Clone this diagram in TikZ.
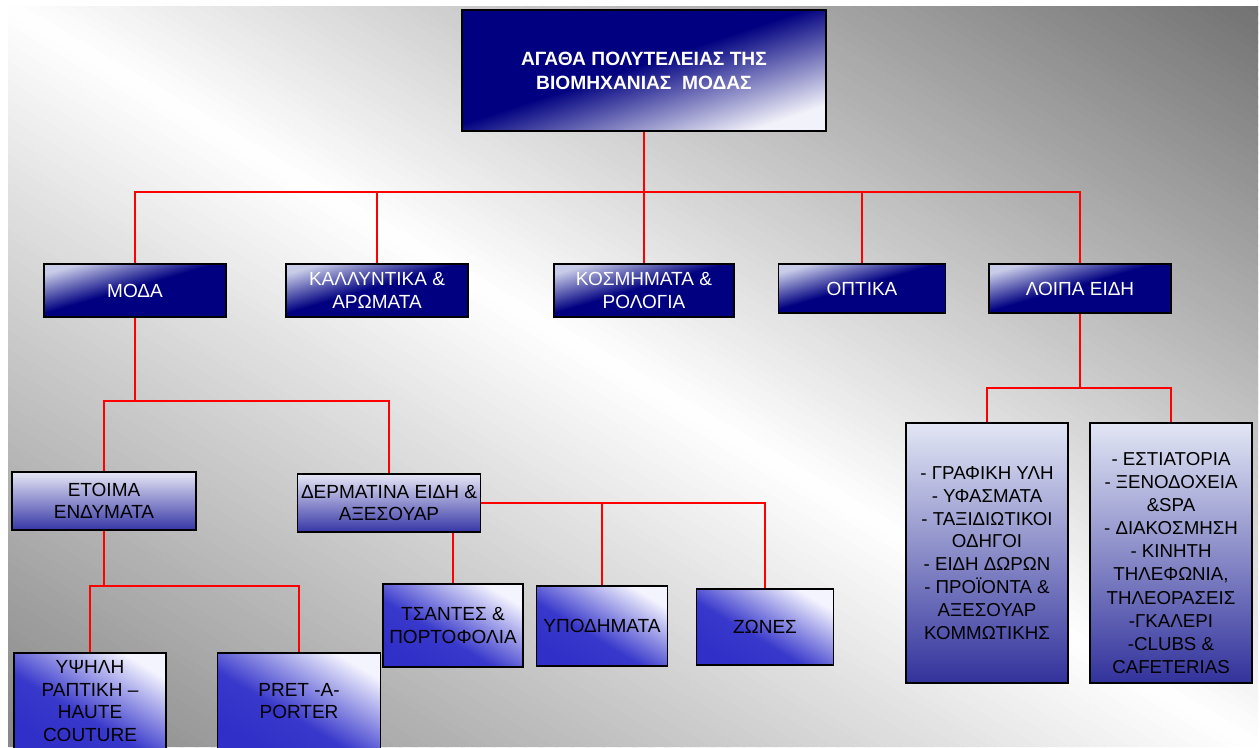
\documentclass[tikz,border=0pt]{standalone}
\usepackage{fontspec}
\setmainfont{Liberation Sans}
\usetikzlibrary{calc}

% palette
\definecolor{bgA}{HTML}{868686}
\definecolor{bgB}{HTML}{727272}
\definecolor{navy}{HTML}{000080}
\definecolor{titlelt}{HTML}{F2F2FA}
\definecolor{catlt}{HTML}{C8CCE8}
\definecolor{grptop}{HTML}{E6E6F6}
\definecolor{grpbot}{HTML}{3636A6}
\definecolor{leafbl}{HTML}{3030C8}
\definecolor{leafmid}{HTML}{3838CC}
\definecolor{leaflt}{HTML}{F4F4FF}
\definecolor{talltop}{HTML}{E2E6F4}
\definecolor{tallbot}{HTML}{32329C}

% diagonal gradients: the box corners fall on 25bp and 75bp
\pgfdeclarehorizontalshading{titlesh}{100bp}{color(0bp)=(navy); color(48bp)=(navy); color(75bp)=(titlelt); color(100bp)=(titlelt)}
\pgfdeclarehorizontalshading{catsh}{100bp}{color(0bp)=(catlt); color(25bp)=(catlt); color(48bp)=(navy); color(100bp)=(navy)}
\pgfdeclarehorizontalshading{leafsh}{100bp}{color(0bp)=(leafbl); color(25bp)=(leafbl); color(43bp)=(leafmid); color(75bp)=(leaflt); color(100bp)=(leaflt)}

\begin{document}
\begin{tikzpicture}[x=1pt, y=-1pt,
  conn/.style={draw=red, line width=1.6pt},
  wh/.style 2 args={minimum width=#1pt, minimum height=#2pt},
  box/.style={draw=black, line width=1.3pt, inner sep=0pt, align=center,
    font=\fontsize{19}{22.5}\selectfont},
  titlebox/.style={box, shading=titlesh, shading angle=-71.6, text=white,
    font=\bfseries\fontsize{19.2}{24}\selectfont},
  catbox/.style={box, shading=catsh, shading angle=-74, text=white},
  groupbox/.style={box, top color=grptop, bottom color=grpbot},
  leafbox/.style={box, shading=leafsh, shading angle=59},
  tallbox/.style={box, top color=talltop, bottom color=tallbot,
    font=\fontsize{18.7}{22.9}\selectfont},
  talltext/.style={inner sep=0pt, align=center, font=\fontsize{18.7}{23.1}\selectfont},
]
\useasboundingbox (0,0) rectangle (1260,747);
\clip (0,0) rectangle (1260,747);

% slide background: grey corners, white along the falling diagonal,
% built from thin strips parallel to that diagonal
\begin{scope}
  \clip (8,6) rectangle (1258,747);
  \foreach \i in {0,...,159} {
    \pgfmathsetmacro{\ta}{-1+\i/80}
    \pgfmathsetmacro{\tb}{-1+(\i+1)/80+0.003}
    \pgfmathsetmacro{\tm}{-1+(\i+0.5)/80}
    \pgfmathsetmacro{\pc}{100*(1-abs(\tm))}
    \ifdim \tm pt<0pt \def\edgecol{bgA}\else\def\edgecol{bgB}\fi
    \fill[white!\pc!\edgecol]
      (8+1250*\ta,6) -- (8+1250*\tb,6) -- (1258+1250*\tb,747) -- (1258+1250*\ta,747) -- cycle;
  }
\end{scope}

% top of the hierarchy
\node[titlebox, wh={364}{121}] (title) at (644,70.5)
  {ΑΓΑΘΑ ΠΟΛΥΤΕΛΕΙΑΣ ΤΗΣ\\ΒΙΟΜΗΧΑΝΙΑΣ\ \ ΜΟΔΑΣ};

% main categories
\node[catbox, wh={182}{53}] (moda)  at (135,290.5) {ΜΟΔΑ};
\node[catbox, wh={182}{53}] (kall)  at (377,290.5) {ΚΑΛΛΥΝΤΙΚΑ \&\\ΑΡΩΜΑΤΑ};
\node[catbox, wh={180}{53}] (kosm)  at (644,290.5) {ΚΟΣΜΗΜΑΤΑ \&\\ΡΟΛΟΓΙΑ};
\node[catbox, wh={167}{49}] (opt)   at (862,288.5) {ΟΠΤΙΚΑ};
\node[catbox, wh={182}{49}] (loipa) at (1080,288.5) {ΛΟΙΠΑ ΕΙΔΗ};

% fashion groups
\node[groupbox, wh={184}{58}] (etoima) at (104,501) {ΕΤΟΙΜΑ\\ΕΝΔΥΜΑΤΑ};
\node[groupbox, wh={183}{58}] (derm)   at (389,503) {ΔΕΡΜΑΤΙΝΑ ΕΙΔΗ \&\\ΑΞΕΣΟΥΑΡ};

% leaves
\node[leafbox, wh={152}{96}] (ypsili) at (90,701) {ΥΨΗΛΗ\\ΡΑΠΤΙΚΗ –\\HAUTE\\COUTURE};
\node[leafbox, wh={163}{96}] (pret)   at (299,701) {PRET -A-\\PORTER};
\node[leafbox, wh={140}{83}] (tsantes) at (453,625.5) {ΤΣΑΝΤΕΣ \&\\ΠΟΡΤΟΦΟΛΙΑ};
\node[leafbox, wh={131}{80}] (ypod)   at (602,626) {ΥΠΟΔΗΜΑΤΑ};
\node[leafbox, wh={137}{76}] (zones)  at (765,627) {ΖΩΝΕΣ};

% other goods
\node[tallbox, wh={162}{260}] (tall1) at (987,553)
  {- ΓΡΑΦΙΚΗ ΥΛΗ\\- ΥΦΑΣΜΑΤΑ\\- ΤΑΞΙΔΙΩΤΙΚΟΙ\\ΟΔΗΓΟΙ\\- ΕΙΔΗ ΔΩΡΩΝ\\- ΠΡΟΪΟΝΤΑ \&\\ΑΞΕΣΟΥΑΡ\\ΚΟΜΜΩΤΙΚΗΣ};
\node[tallbox, wh={162}{260}] (tall2) at (1171,553) {};
\node[talltext] (tall2txt) at (1171,563)
  {- ΕΣΤΙΑΤΟΡΙΑ\\- ΞΕΝΟΔΟΧΕΙΑ\\\&SPA\\- ΔΙΑΚΟΣΜΗΣΗ\\- ΚΙΝΗΤΗ\\ΤΗΛΕΦΩΝΙΑ,\\ΤΗΛΕΟΡΑΣΕΙΣ\\-ΓΚΑΛΕΡΙ\\-CLUBS \&\\CAFETERIAS};

% junction points of the connector trees
\coordinate (j0) at (644,192);
\coordinate (j1) at (135,401);
\coordinate (j2) at (104,586);
\coordinate (j3) at (1080,388);

% connectors
\draw[conn] (title.south) -- (j0);
\draw[conn] (moda.north) |- (j0) -| (loipa.north);
\draw[conn] (kall.north) -- (kall.north |- j0);
\draw[conn] (kosm.north) -- (kosm.north |- j0);
\draw[conn] (opt.north) -- (opt.north |- j0);

\draw[conn] (moda.south) -- (j1);
\draw[conn] (etoima.north) |- (j1) -| (derm.north);

\draw[conn] (etoima.south) -- (j2);
\draw[conn] (ypsili.north) |- (j2) -| (pret.north);

\draw[conn] (tsantes.north |- derm.south) -- (tsantes.north);
\draw[conn] (derm.east) -| (zones.north);
\draw[conn] (ypod.north) -- (ypod.north |- derm.east);

\draw[conn] (loipa.south) -- (j3);
\draw[conn] (tall1.north) |- (j3) -| (tall2.north);
\end{tikzpicture}
\end{document}
